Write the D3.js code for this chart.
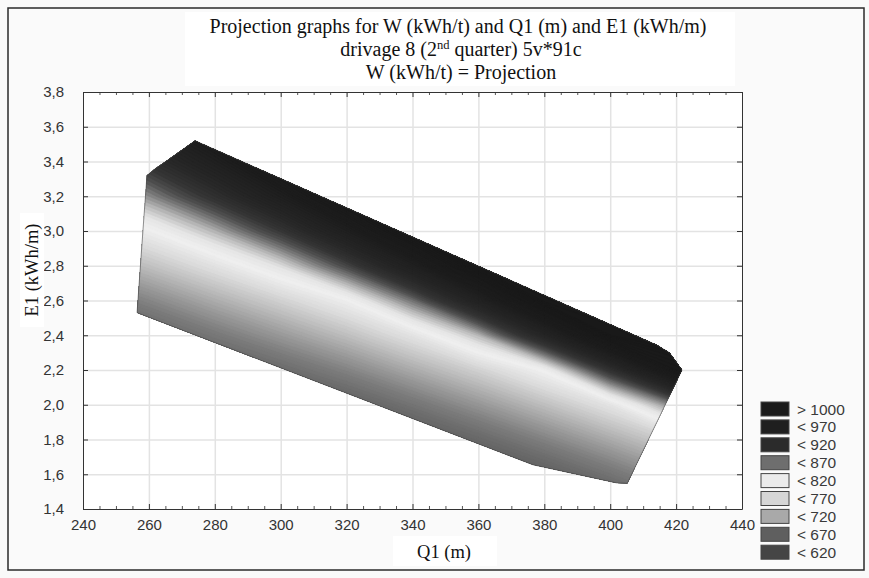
<!DOCTYPE html>
<html>
<head>
<meta charset="utf-8">
<script src="https://cdn.jsdelivr.net/npm/d3@7"></script>
<style>
  body { margin: 0; background: #fff; }
  text { font-family: "Liberation Sans", Arial, sans-serif; }
  .serif { font-family: "Liberation Serif", "Times New Roman", serif; }
</style>
</head>
<body>
<svg width="869" height="578"></svg>
<script>
// axis ticks
const q1Ticks = [240, 260, 280, 300, 320, 340, 360, 380, 400, 420, 440];
const e1Ticks = [1.4, 1.6, 1.8, 2.0, 2.2, 2.4, 2.6, 2.8, 3.0, 3.2, 3.4, 3.6, 3.8];

// W (kWh/t) on a Q1 x E1 grid (rows from E1 = 3.8 down to 1.4)
const gridQ1 = [240, 260, 280, 300, 320, 340, 360, 380, 400, 420, 440];
const gridE1 = [3.8, 3.6, 3.4, 3.2, 3.0, 2.8, 2.6, 2.4, 2.2, 2.0, 1.8, 1.6, 1.4];
const wGrid = [
  [969, 1025, 1080, 1080, 1080, 1080, 1080, 1080, 1080, 1080, 1080],
  [916, 967, 1037, 1080, 1080, 1080, 1080, 1080, 1080, 1080, 1080],
  [865, 911, 973, 1052, 1080, 1080, 1080, 1080, 1080, 1080, 1080],
  [815, 856, 910, 978, 1064, 1080, 1080, 1080, 1080, 1080, 1080],
  [760, 796, 842, 900, 976, 1071, 1080, 1080, 1080, 1080, 1080],
  [700, 740, 779, 823, 887, 970, 1074, 1080, 1080, 1080, 1080],
  [640, 680, 720, 758, 797, 866, 957, 1071, 1080, 1080, 1080],
  [585, 622, 662, 700, 738, 780, 840, 940, 1060, 1080, 1080],
  [580, 580, 605, 640, 677, 718, 758, 802, 908, 1030, 1080],
  [580, 580, 580, 582, 616, 656, 697, 738, 781, 865, 990],
  [580, 580, 580, 580, 580, 596, 635, 676, 718, 760, 808],
  [580, 580, 580, 580, 580, 580, 580, 614, 656, 700, 742],
  [580, 580, 580, 580, 580, 580, 580, 580, 595, 638, 680]
];

// outline of the data region
const boundaryQ1 = [256.4, 259.4, 262, 264, 274, 414, 418, 421.8, 405.2, 402, 376.6, 256.4];
const boundaryE1 = [2.53, 3.32, 3.36, 3.385, 3.52, 2.345, 2.3, 2.2, 1.548, 1.55, 1.654, 2.53];

// legend
const legendLabels = ["> 1000", "< 970", "< 920", "< 870", "< 820", "< 770", "< 720", "< 670", "< 620"];
const legendShades = ["#1b1b1b", "#1f1f1f", "#2b2b2b", "#6e6e6e", "#ebebeb", "#d6d6d6", "#a9a9a9", "#5f5f5f", "#454545"];

const svg = d3.select("svg");
svg.append("rect").attr("width", 869).attr("height", 578).attr("fill", "#f9f9f9");
svg.append("rect").attr("x", 8).attr("y", 8).attr("width", 856).attr("height", 562)
  .attr("fill", "#fafafa").attr("stroke", "#2a2a2a").attr("stroke-width", 1.5);

let x = d3.scaleLinear().domain([240, 440]).range([83, 742]);
let y = d3.scaleLinear().domain([1.4, 3.8]).range([509, 92]);

// title
svg.append("rect").attr("x", 185).attr("y", 12).attr("width", 550).attr("height", 74).attr("fill", "#fff");
let title = svg.append("g").attr("text-anchor", "middle").attr("fill", "#111");
title.append("text").attr("class", "serif").attr("x", 458).attr("y", 33).style("font-size", "20px")
  .text("Projection graphs for W (kWh/t) and Q1 (m) and E1 (kWh/m)");
let t2 = title.append("text").attr("class", "serif").attr("x", 461).attr("y", 56).style("font-size", "20px");
t2.append("tspan").text("drivage 8 (2");
t2.append("tspan").attr("dy", -7).style("font-size", "12.5px").text("nd");
t2.append("tspan").attr("dy", 7).text(" quarter) 5v*91c");
title.append("text").attr("class", "serif").attr("x", 461).attr("y", 79).style("font-size", "20px")
  .text("W (kWh/t) = Projection");

// plot background + grid
svg.append("rect").attr("x", 83).attr("y", 92).attr("width", 659).attr("height", 417).attr("fill", "#fff");

svg.append("g").attr("transform", "translate(0,509)")
  .call(d3.axisBottom(x).tickValues(q1Ticks.slice(1, -1)).tickSize(-417).tickFormat(""))
  .call(g => g.select(".domain").remove())
  .selectAll("line").attr("stroke", "#e3e3e3").attr("stroke-width", 1.5);
svg.append("g").attr("transform", "translate(83,0)")
  .call(d3.axisLeft(y).tickValues(e1Ticks.slice(1, -1)).tickSize(-659).tickFormat(""))
  .call(g => g.select(".domain").remove())
  .selectAll("line").attr("stroke", "#e3e3e3").attr("stroke-width", 1.5);

// contour map
const nx = gridQ1.length, ny = gridE1.length;
const values = wGrid.flat();
const thresholds = d3.range(580, 1085, 6);
const contours = d3.contours().size([nx, ny]).thresholds(thresholds)(values);

const shade = d3.scaleLinear()
  .domain([580, 610, 640, 670, 700, 740, 770, 800, 820, 840, 860, 880, 900, 930, 970, 1000, 1080])
  .range(["#555555", "#5e5e5e", "#6a6a6a", "#7c7c7c", "#989898", "#c0c0c0", "#dcdcdc", "#f0f0f0",
          "#e4e4e4", "#b8b8b8", "#808080", "#505050", "#353535", "#282828", "#202020", "#1c1c1c", "#181818"]);

// grid index -> data coordinates (d3.contours puts value i at i + 0.5)
const gx = d3.scaleLinear().domain([0.5, nx - 0.5]).range([gridQ1[0], gridQ1[nx - 1]]);
const gy = d3.scaleLinear().domain([0.5, ny - 0.5]).range([gridE1[0], gridE1[ny - 1]]);
const path = d3.geoPath(d3.geoTransform({
  point: function (px, py) { this.stream.point(x(gx(px)), y(gy(py))); }
}));

const boundary = boundaryQ1.map((q, i) => [q, boundaryE1[i]]);
const outline = d3.line().x(d => x(d[0])).y(d => y(d[1]));

svg.append("clipPath").attr("id", "region").append("path").attr("d", outline(boundary));

svg.append("g").attr("clip-path", "url(#region)")
  .selectAll("path")
  .data(contours)
  .enter()
  .append("path")
  .attr("d", path)
  .attr("fill", d => shade(d.value + 3))
  .attr("stroke", d => shade(d.value + 3))
  .attr("stroke-width", 0.6);

svg.append("path").attr("d", outline(boundary)).attr("fill", "none")
  .attr("stroke", "#444").attr("stroke-width", 0.8).attr("stroke-opacity", 0.7);

// axes: frame, ticks, labels
const fmt = d => d3.format(".1f")(d).replace(".", ",");
const minorQ1 = d3.range(q1Ticks[0], q1Ticks[q1Ticks.length - 1], 5).filter(v => v % 20 !== 0);
[509, 92].forEach(pos => {
  svg.append("g").attr("transform", "translate(0," + pos + ")")
    .call((pos === 509 ? d3.axisBottom(x) : d3.axisTop(x)).tickValues(minorQ1).tickSizeInner(-3).tickSizeOuter(0).tickFormat(""))
    .call(g => g.select(".domain").remove())
    .selectAll("line").attr("stroke", "#555");
});
let axB = svg.append("g").attr("transform", "translate(0,509)")
  .call(d3.axisBottom(x).tickValues(q1Ticks).tickSizeInner(-5).tickSizeOuter(0).tickPadding(10));
let axT = svg.append("g").attr("transform", "translate(0,92)")
  .call(d3.axisTop(x).tickValues(q1Ticks).tickSizeInner(-5).tickSizeOuter(0).tickFormat(""));
let axL = svg.append("g").attr("transform", "translate(83,0)")
  .call(d3.axisLeft(y).tickValues(e1Ticks).tickSizeInner(-5).tickSizeOuter(0).tickPadding(19).tickFormat(fmt));
let axR = svg.append("g").attr("transform", "translate(742,0)")
  .call(d3.axisRight(y).tickValues(e1Ticks).tickSizeInner(-5).tickSizeOuter(0).tickFormat(""));
[axB, axT, axL, axR].forEach(a => {
  a.select(".domain").attr("stroke", "#333");
  a.selectAll("line").attr("stroke", "#333");
  a.selectAll("text").style("font-size", "15px").attr("fill", "#333")
    .style("font-family", "'Liberation Sans', Arial, sans-serif");
});

// axis titles
svg.append("rect").attr("x", 20).attr("y", 213).attr("width", 24).attr("height", 114).attr("fill", "#fff");
svg.append("text").attr("class", "serif").attr("text-anchor", "middle")
  .attr("transform", "translate(38,270) rotate(-90)").style("font-size", "18.5px").attr("fill", "#111")
  .text("E1 (kWh/m)");
svg.append("rect").attr("x", 393).attr("y", 536).attr("width", 104).attr("height", 30).attr("fill", "#fff");
svg.append("text").attr("class", "serif").attr("text-anchor", "middle")
  .attr("x", 444).attr("y", 558).style("font-size", "18.5px").attr("fill", "#111")
  .text("Q1 (m)");

// legend
let legend = svg.append("g").attr("transform", "translate(761,402)");
legend.selectAll("rect")
  .data(legendLabels)
  .enter()
  .append("rect")
  .attr("x", 0)
  .attr("y", (d, i) => i * 17.9)
  .attr("width", 28)
  .attr("height", 14)
  .attr("fill", (d, i) => legendShades[i])
  .attr("stroke", "#444")
  .attr("stroke-width", 1);
legend.selectAll("text")
  .data(legendLabels)
  .enter()
  .append("text")
  .attr("x", 36)
  .attr("y", (d, i) => i * 17.9 + 12.5)
  .style("font-size", "15.5px")
  .attr("fill", "#3a3a3a")
  .text(d => d);
</script>
</body>
</html>
